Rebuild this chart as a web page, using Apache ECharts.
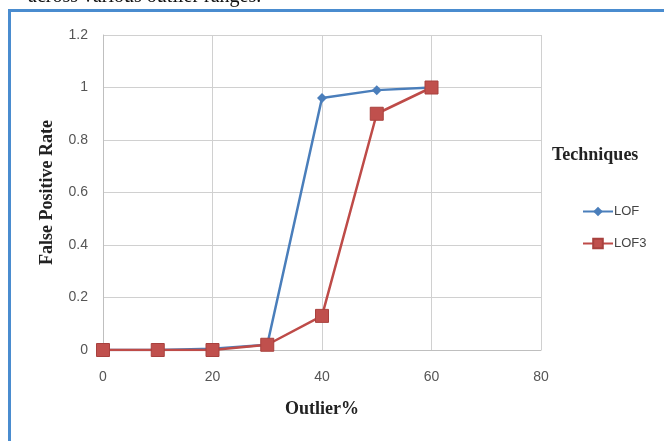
<!DOCTYPE html>
<html><head><meta charset="utf-8">
<script src="https://cdn.jsdelivr.net/npm/echarts@6/dist/echarts.min.js"></script>
<style>html,body{margin:0;padding:0;background:#fff}#c{width:664px;height:441px}</style>
</head><body><div id="c"></div>
<script>
const outlierPct = [0, 10, 20, 30, 40, 50, 60];
const lofValues = [0, 0, 0.005, 0.02, 0.96, 0.99, 1.0];
const lof3Values = [0, 0, 0, 0.02, 0.13, 0.9, 1.0];
const seriesNames = ['LOF', 'LOF3'];
const xTitle = 'Outlier%';
const yTitle = 'False Positive Rate';
const legendTitle = 'Techniques';
const captionText = 'across various outlier ranges.';

const chart = echarts.init(document.getElementById('c'), null, {renderer: 'canvas'});
const pairs = (xs, ys) => xs.map((x, i) => [x, ys[i]]);
chart.setOption({
  animation: false,
  backgroundColor: '#ffffff',
  grid: {left: 103, right: 123, top: 35, bottom: 91, containLabel: false},
  xAxis: {
    type: 'value', min: 0, max: 80, interval: 20,
    name: xTitle, nameLocation: 'middle', nameGap: 50,
    nameTextStyle: {fontFamily: 'Liberation Serif', fontWeight: 'bold', fontSize: 18, color: '#222'},
    axisLine: {show: true, lineStyle: {color: '#bfbfbf'}},
    axisTick: {show: false},
    axisLabel: {color: '#555', fontFamily: 'Liberation Sans', fontSize: 14, margin: 20},
    splitLine: {show: true, lineStyle: {color: '#d0d0d0', width: 1}}
  },
  yAxis: {
    type: 'value', min: 0, max: 1.2, interval: 0.2,
    name: yTitle, nameLocation: 'middle', nameGap: 47, nameRotate: 90,
    nameTextStyle: {fontFamily: 'Liberation Serif', fontWeight: 'bold', fontSize: 18, color: '#222'},
    axisLine: {show: true, lineStyle: {color: '#bfbfbf'}},
    axisTick: {show: false},
    axisLabel: {color: '#555', fontFamily: 'Liberation Sans', fontSize: 14, margin: 15,
      formatter: v => String(Math.round(v * 10) / 10)},
    splitLine: {show: true, lineStyle: {color: '#d0d0d0', width: 1}}
  },
  legend: {
    orient: 'vertical', left: 577, top: 200, itemGap: 19,
    itemWidth: 30, itemHeight: 12,
    textStyle: {fontFamily: 'Liberation Sans', fontSize: 13, color: '#444', padding: [0, 0, 0, -4]},
    data: seriesNames
  },
  graphic: [
    {type: 'rect', left: 8, top: 9, shape: {width: 656, height: 3}, style: {fill: '#4a8ccf'}},
    {type: 'rect', left: 8, top: 9, shape: {width: 3, height: 432}, style: {fill: '#4a8ccf'}},
    {type: 'text', left: 552, top: 146, style: {text: legendTitle, fontFamily: 'Liberation Serif', fontWeight: 'bold', fontSize: 18, fill: '#222'}},
    {type: 'text', left: 28, top: -13, style: {text: captionText, fontFamily: 'Liberation Serif', fontSize: 20, fill: '#111'}}
  ],
  series: [
    {
      name: seriesNames[0], type: 'line', data: pairs(outlierPct, lofValues),
      symbol: 'diamond', symbolSize: 10,
      lineStyle: {color: '#4a7ebb', width: 2.5},
      itemStyle: {color: '#4a7ebb'}, z: 2
    },
    {
      name: seriesNames[1], type: 'line', data: pairs(outlierPct, lof3Values),
      symbol: 'rect', symbolSize: 13,
      lineStyle: {color: '#be4b48', width: 2.5},
      itemStyle: {color: '#c0504d', borderColor: '#a8413e', borderWidth: 1}, z: 3
    }
  ]
});
</script></body></html>
